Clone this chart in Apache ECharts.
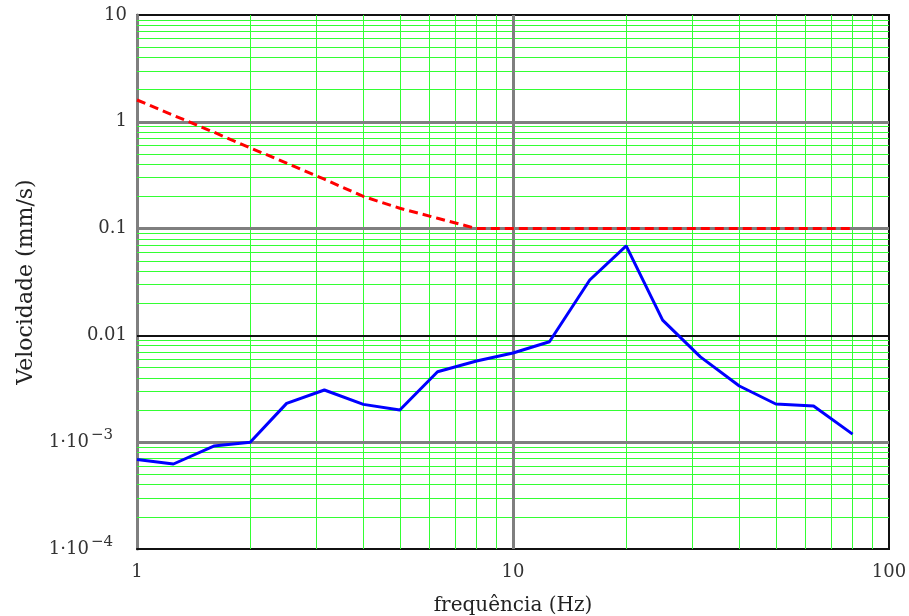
<!DOCTYPE html>
<html>
<head>
<meta charset="utf-8">
<script src="https://cdn.jsdelivr.net/npm/echarts@6/dist/echarts.min.js"></script>
<style>
  html, body { margin: 0; padding: 0; background: #fff; }
  #chart { width: 909px; height: 616px; }
</style>
</head>
<body>
<div id="chart"></div>
<script>
// 1/3-octave band centre frequencies (Hz)
var freqs = [1, 1.25, 1.6, 2, 2.5, 3.15, 4, 5, 6.3, 8, 10, 12.5, 16, 20, 25, 31.5, 40, 50, 63, 80];
// measured velocity (mm/s)
var velocity = [0.00069, 0.000625, 0.00092, 0.001, 0.00231, 0.00308, 0.00226, 0.002, 0.00457, 0.00575,
  0.00684, 0.00873, 0.033, 0.069, 0.0139, 0.0063, 0.00336, 0.00228, 0.00218, 0.00119];
// limit curve (mm/s)
var limit = [1.6, 1.15, 0.8, 0.57, 0.41, 0.29, 0.2, 0.155, 0.125, 0.1,
  0.1, 0.1, 0.1, 0.1, 0.1, 0.1, 0.1, 0.1, 0.1, 0.1];
// y tick labels, from 1e-4 up to 10
var yTickLabels = ["1\u00b710{e|\u22124}", "1\u00b710{e|\u22123}", "0.01", "0.1", "1", "10"];
var xTickLabels = ["1", "10", "100"];

var chartDom = document.getElementById("chart");
var myChart = echarts.init(chartDom);

// grid lines: green for 2..9 of every decade, gray/black for decades
var xMinor = [];
[1, 10].forEach(function (d) {
  for (var k = 2; k <= 9; k++) xMinor.push({ xAxis: k * d });
});
var yMinor = [];
[0.0001, 0.001, 0.01, 0.1, 1].forEach(function (d) {
  for (var k = 2; k <= 9; k++) yMinor.push({ yAxis: +(k * d).toPrecision(3) });
});
var grayLine = { color: "#7f7f7f", width: 3, type: "solid" };
var majorLines = [
  { xAxis: 10, lineStyle: grayLine },
  { yAxis: 0.001, lineStyle: grayLine },
  { yAxis: 0.1, lineStyle: grayLine },
  { yAxis: 1, lineStyle: grayLine },
  { yAxis: 0.01, lineStyle: { color: "#111", width: 2, type: "solid" } }
];

var serif = "DejaVu Serif";

var option = {
  backgroundColor: "#fff",
  animation: false,
  grid: {
    left: 137,
    right: 20,
    top: 15,
    bottom: 67,
    containLabel: false,
    outerBoundsMode: "none",
    show: true,
    borderColor: "#111",
    borderWidth: 2
  },
  xAxis: {
    type: "log",
    logBase: 10,
    min: 1,
    max: 100,
    name: "frequência (Hz)",
    nameLocation: "middle",
    nameGap: 47,
    nameTextStyle: { fontFamily: serif, fontSize: 20, color: "#222" },
    axisLine: { show: true, onZero: false, lineStyle: { color: "#111", width: 2 } },
    axisTick: { show: false },
    splitLine: { show: false },
    axisLabel: {
      fontFamily: serif,
      fontSize: 18,
      color: "#333",
      margin: 14,
      formatter: function (v) {
        return xTickLabels[Math.round(Math.log10(v))];
      }
    }
  },
  yAxis: {
    type: "log",
    logBase: 10,
    min: 0.0001,
    max: 10,
    name: "Velocidade (mm/s)",
    nameLocation: "middle",
    nameGap: 100,
    nameTextStyle: { fontFamily: serif, fontSize: 22, color: "#222" },
    axisLine: { show: true, onZero: false, lineStyle: { color: "#7f7f7f", width: 3 } },
    axisTick: { show: false },
    splitLine: { show: false },
    axisLabel: {
      fontFamily: serif,
      fontSize: 18,
      color: "#333",
      margin: 10,
      formatter: function (v) {
        return yTickLabels[Math.round(Math.log10(v)) + 4];
      },
      rich: {
        e: { fontFamily: serif, fontSize: 15, color: "#333", padding: [0, 14, 14, 2] }
      }
    }
  },
  series: [
    {
      name: "minor",
      type: "line",
      data: [],
      silent: true,
      z: 1,
      markLine: {
        silent: true,
        z: 1,
        precision: 10,
        symbol: "none",
        label: { show: false },
        animation: false,
        lineStyle: { color: "#33ff33", width: 1, type: "solid" },
        data: xMinor.concat(yMinor)
      }
    },
    {
      name: "major",
      type: "line",
      data: [],
      silent: true,
      z: 2,
      markLine: {
        silent: true,
        z: 2,
        precision: 10,
        symbol: "none",
        label: { show: false },
        animation: false,
        data: majorLines
      }
    },
    {
      name: "Limite",
      type: "line",
      z: 4,
      showSymbol: false,
      lineStyle: { color: "#ff0000", width: 3, type: [9, 5] },
      data: freqs.map(function (f, i) { return [f, limit[i]]; })
    },
    {
      name: "Velocidade",
      type: "line",
      z: 5,
      showSymbol: false,
      lineStyle: { color: "#0000ff", width: 3 },
      data: freqs.map(function (f, i) { return [f, velocity[i]]; })
    }
  ]
};

myChart.setOption(option);
</script>
</body>
</html>
